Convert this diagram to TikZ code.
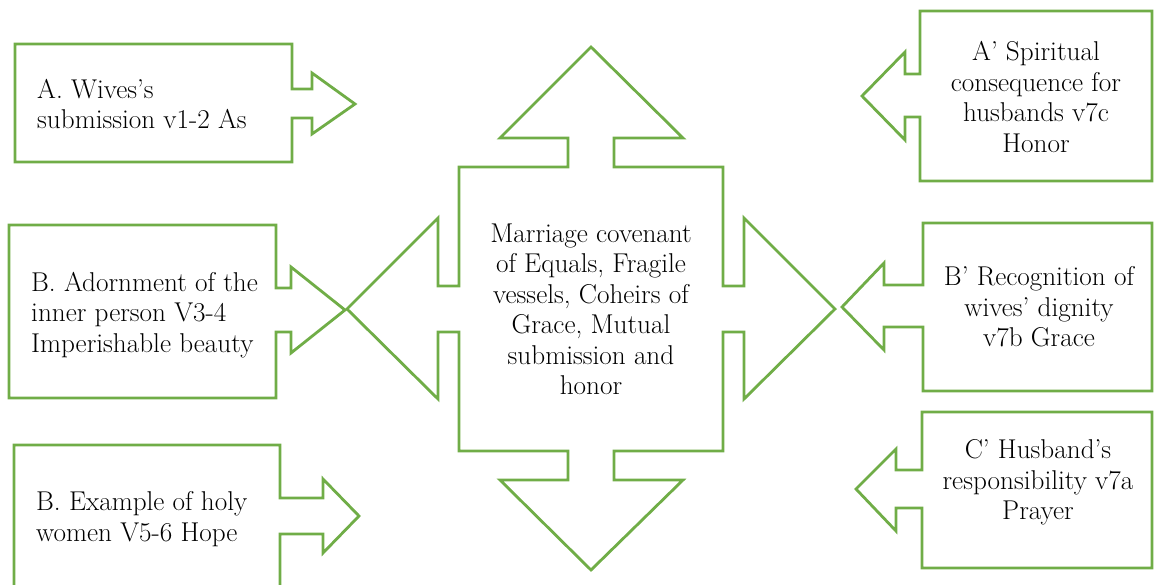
\documentclass[tikz,border=0pt]{standalone}
\usetikzlibrary{positioning}
\definecolor{boxgreen}{RGB}{112,173,71}
\tikzset{
	callout/.style={draw=boxgreen,line width=2.8pt,line join=miter},
	lefttext/.style={align=left,inner sep=0pt,anchor=west,font=\fontsize{27.2}{30.5}\selectfont},
	righttext/.style={align=center,inner sep=0pt,font=\fontsize{27.2}{30.5}\selectfont}
}
\begin{document}
\begin{tikzpicture}[x=1pt,y=-1pt]
	\useasboundingbox (0,0) rectangle (1154,584);
	\clip (0,0) rectangle (1154,584);
	% left callouts
	\draw[callout] (15,44) -- (292,44) -- (292,89) -- (312,89) -- (312,73) -- (355,104) -- (312,134) -- (312,118) -- (292,118) -- (292,162) -- (15,162) -- cycle;
	\draw[callout] (9,225) -- (276,225) -- (276,288) -- (291,288) -- (291,267) -- (345,310) -- (291,353) -- (291,332) -- (276,332) -- (276,398) -- (9,398) -- cycle;
	\draw[callout] (14,600) -- (14,445) -- (280,445) -- (280,498) -- (323,498) -- (323,479) -- (359,516) -- (323,553) -- (323,534) -- (280,534) -- (280,600);
	% right callouts
	\draw[callout] (1152,11) -- (920,11) -- (920,74) -- (905,74) -- (905,52) -- (862,96) -- (905,140) -- (905,117) -- (920,117) -- (920,181) -- (1152,181) -- cycle;
	\draw[callout] (1152,223) -- (923,223) -- (923,285) -- (884,285) -- (884,263) -- (842,307) -- (884,350) -- (884,327) -- (923,327) -- (923,391) -- (1152,391) -- cycle;
	\draw[callout] (1152,412) -- (922,412) -- (922,470) -- (896,470) -- (896,449) -- (856,489) -- (896,531) -- (896,508) -- (922,508) -- (922,568) -- (1152,568) -- cycle;
	% centre, arrows on four sides
	\draw[callout] (591,47) -- (683,138) -- (614,138) -- (614,167) -- (723,167) -- (723,286) -- (744,286) -- (744,218) -- (835,309) -- (744,399) -- (744,332) -- (723,332) -- (723,451) -- (614,451) -- (614,480) -- (683,480) -- (591,570) -- (500,480) -- (568,480) -- (568,451) -- (459,451) -- (459,332) -- (438,332) -- (438,399) -- (347,309) -- (438,218) -- (438,286) -- (459,286) -- (459,167) -- (568,167) -- (568,138) -- (500,138) -- cycle;
	\node[righttext] (covenant) at (591,309.5) {Marriage covenant\\of Equals, Fragile\\vessels, Coheirs of\\Grace, Mutual\\submission and\\honor};
	\node[lefttext] (wives) at (37,104) {A. Wives’s\\submission v1-2 As};
	\node[lefttext] (adorn) at (31,315) {B. Adornment of the\\inner person V3-4\\Imperishable beauty};
	\node[lefttext] (holy) at (36,519) {B. Example of holy\\women V5-6 Hope};
	\node[righttext] (spiritual) at (1036,97) {A’ Spiritual\\consequence for\\husbands v7c\\Honor};
	\node[righttext] (dignity) at (1039,307) {B’ Recognition of\\wives’ dignity\\v7b Grace};
	\node[righttext] (prayer) at (1038,482.5) {C’ Husband’s\\responsibility v7a\\Prayer};
\end{tikzpicture}
\end{document}
